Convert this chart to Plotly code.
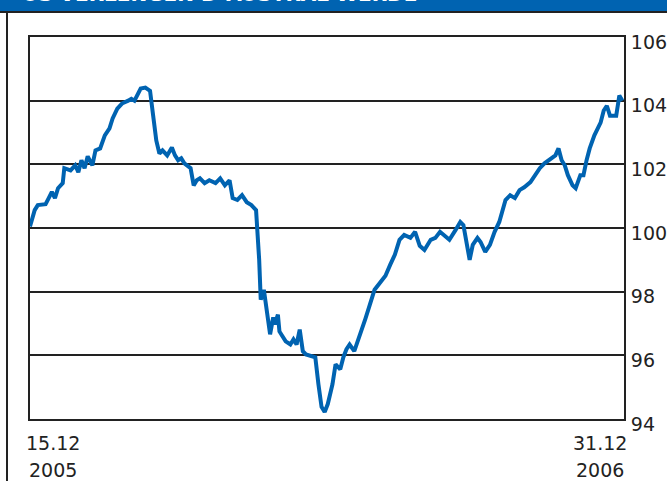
import plotly.graph_objects as go

# Index level, Dec 2005 - Dec 2006
dates = [
    "2005-12-15", "2005-12-16", "2005-12-18", "2005-12-20", "2005-12-25", "2005-12-27", "2005-12-29", "2005-12-31",
    "2006-01-02", "2006-01-05", "2006-01-06", "2006-01-10", "2006-01-13", "2006-01-15", "2006-01-17", "2006-01-19",
    "2006-01-21", "2006-01-24", "2006-01-26", "2006-01-29", "2006-02-01", "2006-02-04", "2006-02-06", "2006-02-09",
    "2006-02-12", "2006-02-16", "2006-02-18", "2006-02-20", "2006-02-24", "2006-02-27", "2006-03-02", "2006-03-04",
    "2006-03-06", "2006-03-08", "2006-03-10", "2006-03-13", "2006-03-16", "2006-03-18", "2006-03-20", "2006-03-22",
    "2006-03-24", "2006-03-28", "2006-03-30", "2006-04-01", "2006-04-03", "2006-04-06", "2006-04-09", "2006-04-13",
    "2006-04-16", "2006-04-19", "2006-04-22", "2006-04-24", "2006-04-27", "2006-04-30", "2006-05-03", "2006-05-06",
    "2006-05-09", "2006-05-11", "2006-05-12", "2006-05-14", "2006-05-15", "2006-05-17", "2006-05-18", "2006-05-20",
    "2006-05-21", "2006-05-23", "2006-05-24", "2006-05-28", "2006-05-31", "2006-06-02", "2006-06-04", "2006-06-06",
    "2006-06-08", "2006-06-10", "2006-06-13", "2006-06-16", "2006-06-18", "2006-06-20", "2006-06-22", "2006-06-24",
    "2006-06-27", "2006-06-29", "2006-07-02", "2006-07-04", "2006-07-06", "2006-07-08", "2006-07-11", "2006-07-15",
    "2006-07-18", "2006-07-21", "2006-07-24", "2006-07-27", "2006-07-31", "2006-08-03", "2006-08-06", "2006-08-09",
    "2006-08-12", "2006-08-16", "2006-08-19", "2006-08-22", "2006-08-25", "2006-08-29", "2006-09-01", "2006-09-04",
    "2006-09-07", "2006-09-10", "2006-09-14", "2006-09-17", "2006-09-19", "2006-09-21", "2006-09-23", "2006-09-25",
    "2006-09-28", "2006-09-30", "2006-10-03", "2006-10-06", "2006-10-09", "2006-10-12", "2006-10-16", "2006-10-19",
    "2006-10-22", "2006-10-25", "2006-10-28", "2006-11-01", "2006-11-04", "2006-11-07", "2006-11-10", "2006-11-13",
    "2006-11-17", "2006-11-19", "2006-11-21", "2006-11-23", "2006-11-25", "2006-11-28", "2006-11-30", "2006-12-03",
    "2006-12-05", "2006-12-07", "2006-12-09", "2006-12-12", "2006-12-16", "2006-12-18", "2006-12-20", "2006-12-22",
    "2006-12-24", "2006-12-26", "2006-12-27", "2006-12-28", "2006-12-30",
]

values = [
    100.05, 100.19, 100.56, 100.72, 100.75, 100.94, 101.13, 100.94,
    101.25, 101.41, 101.88, 101.81, 101.97, 101.75, 102.13, 101.88,
    102.25, 101.97, 102.44, 102.50, 102.91, 103.13, 103.44, 103.75,
    103.91, 104.00, 104.06, 104.00, 104.38, 104.41, 104.31, 103.53,
    102.75, 102.34, 102.44, 102.28, 102.53, 102.28, 102.13, 102.19,
    102.03, 101.88, 101.34, 101.50, 101.56, 101.41, 101.50, 101.41,
    101.56, 101.34, 101.50, 100.94, 100.88, 101.03, 100.81, 100.72,
    100.56, 99.00, 97.75, 98.06, 97.75, 96.97, 96.66, 97.19,
    96.97, 97.28, 96.75, 96.44, 96.34, 96.50, 96.34, 96.81,
    96.13, 96.03, 95.97, 95.94, 95.09, 94.38, 94.22, 94.47,
    95.09, 95.72, 95.56, 95.94, 96.19, 96.34, 96.13, 96.66,
    97.13, 97.59, 98.06, 98.25, 98.50, 98.84, 99.16, 99.63,
    99.78, 99.69, 99.88, 99.44, 99.31, 99.63, 99.69, 99.88,
    99.75, 99.63, 99.94, 100.19, 100.09, 99.47, 99.00, 99.47,
    99.69, 99.56, 99.25, 99.47, 99.88, 100.19, 100.88, 101.03,
    100.94, 101.19, 101.28, 101.44, 101.66, 101.88, 102.03, 102.13,
    102.28, 102.50, 102.13, 101.97, 101.66, 101.34, 101.25, 101.66,
    101.66, 102.13, 102.50, 102.91, 103.31, 103.69, 103.84, 103.53,
    103.53, 103.53, 103.84, 104.16, 104.00,
]

y_ticks = [94, 96, 98, 100, 102, 104, 106]
start_label = ("15.12", "2005")
end_label = ("31.12", "2006")
title_text = "US-VERLENGEN D-AUSTRAL WERDE"

BLUE = "#0063B1"
INK = "#222222"
FONT = "DejaVu Sans, Verdana, sans-serif"
FS = 19

W, H = 667, 481
ML, MR, MT, MB = 30, 43, 37, 62
PW, PH = W - ML - MR, H - MT - MB


def px_x(p):
    return (p - ML) / PW


def px_y(p):
    return (H - MB - p) / PH


fig = go.Figure()
fig.add_trace(go.Scatter(
    x=dates, y=values, mode="lines",
    line=dict(color=BLUE, width=4),
    hoverinfo="skip",
))

fig.update_layout(
    width=W, height=H,
    margin=dict(l=ML, r=MR, t=MT, b=MB, autoexpand=False),
    paper_bgcolor="white", plot_bgcolor="white",
    showlegend=False,
    font=dict(family=FONT, color=INK, size=FS),
)

fig.update_xaxes(
    range=["2005-12-15", "2006-12-31"],
    showgrid=False, showticklabels=False, ticks="",
    showline=True, linecolor=INK, linewidth=2, mirror=True,
    zeroline=False, automargin=False,
)
fig.update_yaxes(
    range=[94, 106], side="right",
    tickvals=y_ticks, ticktext=[str(v) for v in y_ticks],
    ticks="", ticklabelstandoff=1, ticklabelshift=5,
    tickfont=dict(family=FONT, size=FS, color=INK),
    showgrid=True, gridcolor=INK, gridwidth=2,
    showline=True, linecolor=INK, linewidth=2, mirror=True,
    zeroline=False, automargin=False,
)

# Header band and frame lines
fig.add_shape(type="rect", xref="paper", yref="paper",
              x0=px_x(-2), x1=px_x(W + 2), y0=px_y(11), y1=px_y(-2),
              fillcolor=BLUE, line=dict(width=0), layer="below")
fig.add_shape(type="line", xref="paper", yref="paper",
              x0=px_x(-2), x1=px_x(W + 2), y0=px_y(12), y1=px_y(12),
              line=dict(color=INK, width=2))
fig.add_shape(type="line", xref="paper", yref="paper",
              x0=px_x(7), x1=px_x(7), y0=px_y(12), y1=px_y(H + 2),
              line=dict(color=INK, width=2))

fig.add_annotation(text=f"<b>{title_text}</b>", xref="paper", yref="paper",
                   x=px_x(20), y=px_y(-5.5), xanchor="left", yanchor="middle",
                   showarrow=False, font=dict(family=FONT, size=20, color="white"))

for lbl, cx in ((start_label, 53), (end_label, 600)):
    fig.add_annotation(text=lbl[0], xref="paper", yref="paper", x=px_x(cx), y=px_y(443),
                       xanchor="center", yanchor="middle", showarrow=False,
                       font=dict(family=FONT, size=FS, color=INK))
    fig.add_annotation(text=lbl[1], xref="paper", yref="paper", x=px_x(cx), y=px_y(470),
                       xanchor="center", yanchor="middle", showarrow=False,
                       font=dict(family=FONT, size=FS, color=INK))

fig.write_html("out.html")
